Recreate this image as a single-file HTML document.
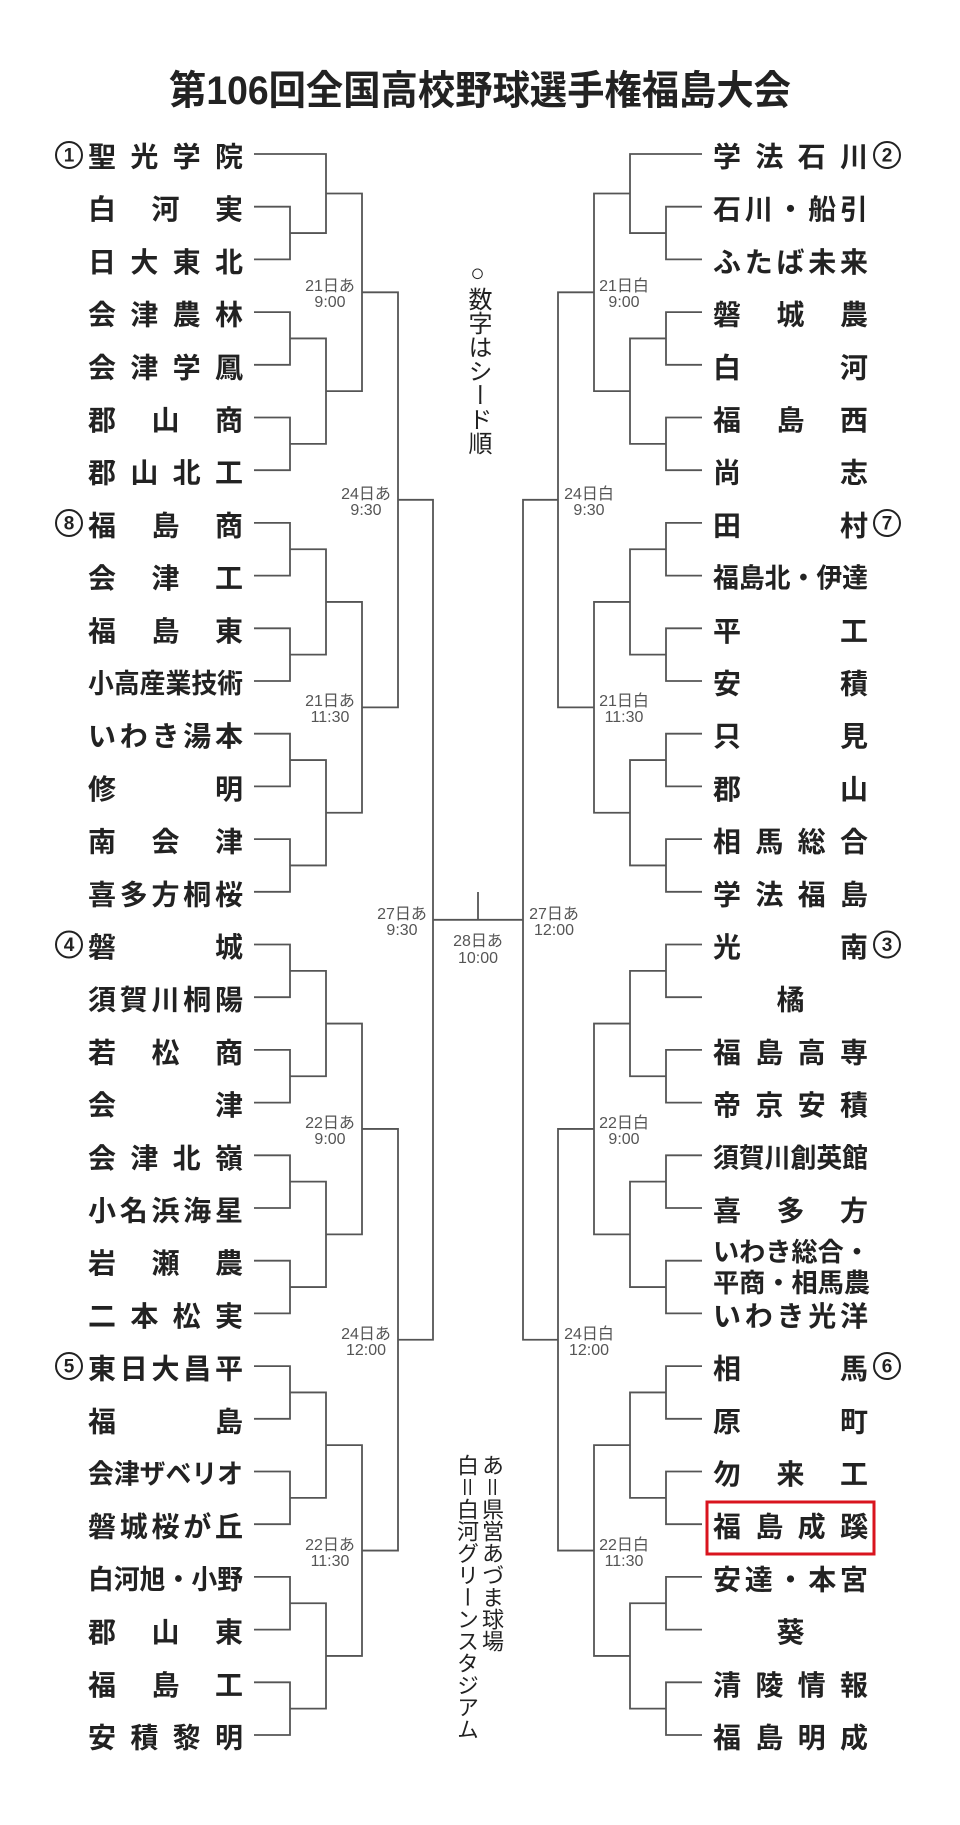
<!DOCTYPE html>
<html><head><meta charset="utf-8">
<style>
html,body{margin:0;padding:0;background:#fff;}
svg{display:block;}
.t text{font-family:"Liberation Sans","Noto Sans CJK JP",sans-serif;font-weight:700;font-size:28px;fill:#222;text-anchor:middle;dominant-baseline:central;}
.t text.w{text-anchor:start;font-size:27px;}
.lb text{font-family:"Liberation Sans","Noto Sans CJK JP",sans-serif;font-size:16px;fill:#555;text-anchor:middle;}
.c circle{fill:none;stroke:#222;stroke-width:2;}
.c text{font-family:"Liberation Sans",sans-serif;font-weight:700;font-size:19px;fill:#222;text-anchor:middle;dominant-baseline:central;}
</style></head>
<body>
<svg width="960" height="1825" viewBox="0 0 960 1825" xmlns="http://www.w3.org/2000/svg">
<text x="480" y="91" text-anchor="middle" dominant-baseline="central" textLength="622" lengthAdjust="spacingAndGlyphs" style="font-family:'Liberation Sans','Noto Sans CJK JP',sans-serif;font-weight:700;font-size:40px;fill:#222">第106回全国高校野球選手権福島大会</text>

<defs>
<g id="br" fill="none" stroke="#555" stroke-width="1.8">
<path d="M254 154 H326 V233.05 H290"/>
<path d="M254 206.7 H290 V259.4 H254"/>
<path d="M254 312.1 H290 V364.8 H254"/>
<path d="M254 417.5 H290 V470.2 H254"/>
<path d="M290 338.45 H326 V443.85 H290"/>
<path d="M326 193.5 H362 V391.15 H326"/>
<path d="M254 522.9 H290 V575.6 H254"/>
<path d="M254 628.3 H290 V681 H254"/>
<path d="M254 733.7 H290 V786.4 H254"/>
<path d="M254 839.1 H290 V891.8 H254"/>
<path d="M290 549.25 H326 V654.65 H290"/>
<path d="M290 760.05 H326 V865.45 H290"/>
<path d="M326 601.95 H362 V812.75 H326"/>
<path d="M362 292.3 H398 V707.35 H362"/>
<path d="M254 944.5 H290 V997.2 H254"/>
<path d="M254 1049.9 H290 V1102.6 H254"/>
<path d="M254 1155.3 H290 V1208 H254"/>
<path d="M254 1260.7 H290 V1313.4 H254"/>
<path d="M290 970.85 H326 V1076.25 H290"/>
<path d="M290 1181.65 H326 V1287.05 H290"/>
<path d="M326 1023.55 H362 V1234.35 H326"/>
<path d="M254 1366.1 H290 V1418.8 H254"/>
<path d="M254 1471.5 H290 V1524.2 H254"/>
<path d="M254 1576.9 H290 V1629.6 H254"/>
<path d="M254 1682.3 H290 V1735 H254"/>
<path d="M290 1392.45 H326 V1497.85 H290"/>
<path d="M290 1603.25 H326 V1708.65 H290"/>
<path d="M326 1445.15 H362 V1655.95 H326"/>
<path d="M362 1128.95 H398 V1550.55 H362"/>
<path d="M398 499.8 H433 V1339.75 H398"/>
</g>
</defs>
<use href="#br"/>
<use href="#br" transform="translate(956,0) scale(-1,1)"/>
<path d="M433 919.8 H523 M478 892 V919.8" fill="none" stroke="#555" stroke-width="1.8"/>

<g class="lb">
<text x="330" y="291">21日あ</text><text x="330" y="307">9:00</text>
<text x="330" y="706">21日あ</text><text x="330" y="722">11:30</text>
<text x="366" y="499">24日あ</text><text x="366" y="515">9:30</text>
<text x="330" y="1128">22日あ</text><text x="330" y="1144">9:00</text>
<text x="330" y="1550">22日あ</text><text x="330" y="1566">11:30</text>
<text x="366" y="1339">24日あ</text><text x="366" y="1355">12:00</text>
<text x="402" y="919">27日あ</text><text x="402" y="935">9:30</text>
<text x="478" y="946">28日あ</text><text x="478" y="963">10:00</text>
<text x="624" y="291">21日白</text><text x="624" y="307">9:00</text>
<text x="624" y="706">21日白</text><text x="624" y="722">11:30</text>
<text x="589" y="499">24日白</text><text x="589" y="515">9:30</text>
<text x="624" y="1128">22日白</text><text x="624" y="1144">9:00</text>
<text x="624" y="1550">22日白</text><text x="624" y="1566">11:30</text>
<text x="589" y="1339">24日白</text><text x="589" y="1355">12:00</text>
<text x="554" y="919">27日あ</text><text x="554" y="935">12:00</text>
</g>

<g class="t">
<!-- left -->
<text x="102 144.33 186.67 229" y="157">聖光学院</text>
<text x="102 165.5 229" y="209.7">白河実</text>
<text x="102 144.33 186.67 229" y="262.4">日大東北</text>
<text x="102 144.33 186.67 229" y="315.1">会津農林</text>
<text x="102 144.33 186.67 229" y="367.8">会津学鳳</text>
<text x="102 165.5 229" y="420.5">郡山商</text>
<text x="102 144.33 186.67 229" y="473.2">郡山北工</text>
<text x="102 165.5 229" y="525.9">福島商</text>
<text x="102 165.5 229" y="578.6">会津工</text>
<text x="102 165.5 229" y="631.3">福島東</text>
<text class="w" x="88" y="684" textLength="155" lengthAdjust="spacingAndGlyphs">小高産業技術</text>
<text x="102 133.75 165.5 197.25 229" y="736.7">いわき湯本</text>
<text x="102 229" y="789.4">修明</text>
<text x="102 165.5 229" y="842.1">南会津</text>
<text x="102 133.75 165.5 197.25 229" y="894.8">喜多方桐桜</text>
<text x="102 229" y="947.5">磐城</text>
<text x="102 133.75 165.5 197.25 229" y="1000.2">須賀川桐陽</text>
<text x="102 165.5 229" y="1052.9">若松商</text>
<text x="102 229" y="1105.6">会津</text>
<text x="102 144.33 186.67 229" y="1158.3">会津北嶺</text>
<text x="102 133.75 165.5 197.25 229" y="1211">小名浜海星</text>
<text x="102 165.5 229" y="1263.7">岩瀬農</text>
<text x="102 144.33 186.67 229" y="1316.4">二本松実</text>
<text x="102 133.75 165.5 197.25 229" y="1369.1">東日大昌平</text>
<text x="102 229" y="1421.8">福島</text>
<text class="w" x="88" y="1474.5" textLength="155" lengthAdjust="spacingAndGlyphs">会津ザベリオ</text>
<text x="102 133.75 165.5 197.25 229" y="1527.2">磐城桜が丘</text>
<text class="w" x="88" y="1579.9" textLength="155" lengthAdjust="spacingAndGlyphs">白河旭・小野</text>
<text x="102 165.5 229" y="1632.6">郡山東</text>
<text x="102 165.5 229" y="1685.3">福島工</text>
<text x="102 144.33 186.67 229" y="1738">安積黎明</text>
<!-- right -->
<text x="727 769.33 811.67 854" y="157">学法石川</text>
<text x="727 758.75 790.5 822.25 854" y="209.7">石川・船引</text>
<text x="727 758.75 790.5 822.25 854" y="262.4">ふたば未来</text>
<text x="727 790.5 854" y="315.1">磐城農</text>
<text x="727 854" y="367.8">白河</text>
<text x="727 790.5 854" y="420.5">福島西</text>
<text x="727 854" y="473.2">尚志</text>
<text x="727 854" y="525.9">田村</text>
<text class="w" x="713" y="578.6" textLength="155" lengthAdjust="spacingAndGlyphs">福島北・伊達</text>
<text x="727 854" y="631.3">平工</text>
<text x="727 854" y="684">安積</text>
<text x="727 854" y="736.7">只見</text>
<text x="727 854" y="789.4">郡山</text>
<text x="727 769.33 811.67 854" y="842.1">相馬総合</text>
<text x="727 769.33 811.67 854" y="894.8">学法福島</text>
<text x="727 854" y="947.5">光南</text>
<text x="790.5" y="1000.2">橘</text>
<text x="727 769.33 811.67 854" y="1052.9">福島高専</text>
<text x="727 769.33 811.67 854" y="1105.6">帝京安積</text>
<text class="w" x="713" y="1158.3" textLength="155" lengthAdjust="spacingAndGlyphs">須賀川創英館</text>
<text x="727 790.5 854" y="1211">喜多方</text>
<text class="w" x="713" y="1252" textLength="157" lengthAdjust="spacingAndGlyphs" style="font-size:26px">いわき総合・</text>
<text class="w" x="713" y="1283" textLength="157" lengthAdjust="spacingAndGlyphs" style="font-size:26px">平商・相馬農</text>
<text x="727 758.75 790.5 822.25 854" y="1316.4">いわき光洋</text>
<text x="727 854" y="1369.1">相馬</text>
<text x="727 854" y="1421.8">原町</text>
<text x="727 790.5 854" y="1474.5">勿来工</text>
<text x="727 769.33 811.67 854" y="1527.2">福島成蹊</text>
<text x="727 758.75 790.5 822.25 854" y="1579.9">安達・本宮</text>
<text x="790.5" y="1632.6">葵</text>
<text x="727 769.33 811.67 854" y="1685.3">清陵情報</text>
<text x="727 769.33 811.67 854" y="1738">福島明成</text>
</g>

<rect x="707" y="1502" width="167" height="52" fill="none" stroke="#d9141e" stroke-width="3"/>

<g class="c">
<circle cx="69" cy="155" r="13"/><text x="69" y="156">1</text>
<circle cx="69" cy="523" r="13"/><text x="69" y="524">8</text>
<circle cx="69" cy="944.5" r="13"/><text x="69" y="945.5">4</text>
<circle cx="69" cy="1366" r="13"/><text x="69" y="1367">5</text>
<circle cx="887" cy="155" r="13"/><text x="887" y="156">2</text>
<circle cx="887" cy="523" r="13"/><text x="887" y="524">7</text>
<circle cx="887" cy="944.5" r="13"/><text x="887" y="945.5">3</text>
<circle cx="887" cy="1366" r="13"/><text x="887" y="1367">6</text>
</g>
</svg>

<div style="position:absolute;left:464px;top:260px;writing-mode:vertical-rl;font-family:'Liberation Sans','Noto Sans CJK JP',sans-serif;font-size:24px;line-height:26px;color:#222;">○数字はシード順</div>
<div style="position:absolute;left:454px;top:1454px;writing-mode:vertical-rl;font-family:'Liberation Sans','Noto Sans CJK JP',sans-serif;font-size:22px;line-height:25px;color:#222;">あ＝県営あづま球場<br>白＝白河グリーンスタジアム</div>
</body></html>
